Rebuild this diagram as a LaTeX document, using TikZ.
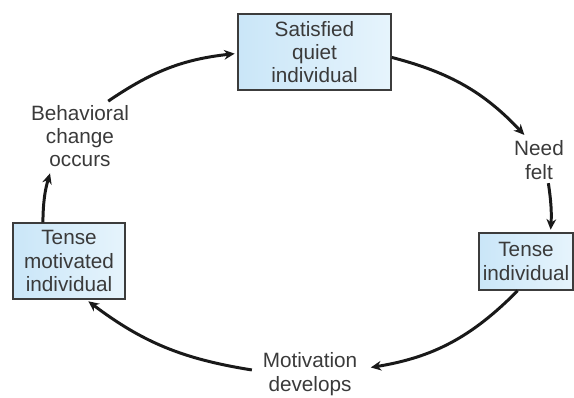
\documentclass[tikz,border=0pt]{standalone}
\usepackage{fontspec}
\setmainfont{Liberation Sans}
\usetikzlibrary{arrows.meta}
\definecolor{txtgray}{HTML}{3A3A3A}
\definecolor{boxline}{HTML}{3C3C3C}
\definecolor{boxblue}{HTML}{CAE6F8}
\definecolor{boxpale}{HTML}{E6F4FC}
\tikzset{stagebox/.style={draw=boxline, line width=0.8pt, left color=boxblue, right color=boxpale, align=center, inner sep=2pt, text=txtgray, font=\fontsize{11.8}{13.3}\selectfont}}
\tikzset{stagelabel/.style={align=center, inner sep=2pt, text=txtgray, font=\fontsize{11.8}{13.3}\selectfont}}
\tikzset{cyclearrow/.style={-{Stealth[length=6pt, width=5.5pt]}, line width=1.7pt, black!90, shorten >=1.5pt}}

\begin{document}
\begin{tikzpicture}[x=0.02cm, y=-0.02cm]
\useasboundingbox (0,0) rectangle (574,397);
\node[stagebox, minimum width=3.06cm, minimum height=1.52cm] (sqi) at (314.5,52) {Satisfied\\quiet\\individual};
\node[stagebox, minimum width=1.88cm, minimum height=1.14cm] (ti) at (526,261.5) {Tense\\individual};
\node[stagebox, minimum width=2.24cm, minimum height=1.52cm] (tmi) at (69,261) {Tense\\motivated\\individual};
\node[stagelabel] (beh) at (80,136) {Behavioral\\change\\occurs};
\node[stagelabel] (nf) at (539,160) {Need\\felt};
\node[stagelabel, inner xsep=6pt] (md) at (310,374) {Motivation\\develops};
\draw[cyclearrow] (tmi.124) to[bend left=8] (beh.230);
\draw[cyclearrow] (beh.51) to[bend left=14] (sqi.181);
\draw[cyclearrow] (sqi.356) to[bend left=16] (nf.119);
\draw[cyclearrow] (nf.292) to[bend left=6] (ti.50);
\draw[cyclearrow] (ti.254) to[bend left=18] (md.6);
\draw[cyclearrow] (md.176) to[bend left=14] (tmi.294);
\end{tikzpicture}
\end{document}
